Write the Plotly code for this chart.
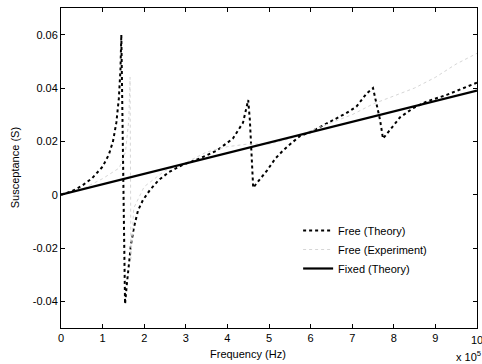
import plotly.graph_objects as go

# Frequency in units of 1e5 Hz
free_theory_f = [0, 0.25, 0.5, 0.75, 1.0, 1.15, 1.25, 1.33, 1.39, 1.43, 1.45,
                 1.50, 1.54, 1.58, 1.62, 1.68, 1.75, 1.85, 1.97, 2.15, 2.35, 2.6,
                 2.9, 3.34, 3.75, 4.13, 4.375, 4.45, 4.5, 4.54, 4.58, 4.62, 4.74,
                 4.95, 5.15, 5.34, 5.55, 5.75, 6.0, 6.3, 6.55, 6.85, 7.1, 7.35,
                 7.5, 7.56, 7.62, 7.67, 7.74, 7.9, 8.15, 8.47, 8.8, 9.27, 9.6, 10.0]
free_theory_b = [0, 0.0012, 0.0033, 0.0062, 0.0105, 0.015, 0.020, 0.027, 0.036, 0.047, 0.060,
                 0.010, -0.041, -0.034, -0.027, -0.019, -0.0125, -0.006, -0.002, 0.002, 0.0055, 0.0085,
                 0.011, 0.0136, 0.0166, 0.021, 0.027, 0.032, 0.0355, 0.028, 0.016, 0.0026, 0.005,
                 0.009, 0.0135, 0.0166, 0.0195, 0.022, 0.0235, 0.026, 0.028, 0.0305, 0.033, 0.038,
                 0.040, 0.036, 0.031, 0.028, 0.021, 0.024, 0.029, 0.0325, 0.035, 0.0374, 0.0395, 0.042]

free_exp_f = [0, 0.5, 1.0, 1.4, 1.55, 1.63, 1.66, 1.68, 1.75, 2.0, 2.5, 3.0, 3.5, 4.0,
              4.5, 5.0, 5.5, 6.0, 6.5, 7.0, 7.5, 8.0, 8.5, 9.0, 9.5, 10.0]
free_exp_b = [0, 0.002, 0.006, 0.010, 0.016, 0.028, 0.044, -0.024, -0.005, 0.003, 0.009, 0.012,
              0.016, 0.018, 0.019, 0.019, 0.021, 0.024, 0.027, 0.030, 0.034, 0.037, 0.040,
              0.044, 0.049, 0.053]

fixed_f = [0, 10.0]
fixed_b = [0, 0.039]

x_ticks = [0, 1, 2, 3, 4, 5, 6, 7, 8, 9, 10]
y_ticks = [-0.04, -0.02, 0, 0.02, 0.04, 0.06]
y_ticktext = ["-0.04", "-0.02", "0", "0.02", "0.04", "0.06"]

FONT = "Liberation Sans, Arial, Helvetica, sans-serif"

fig = go.Figure()
fig.add_trace(go.Scatter(x=free_theory_f, y=free_theory_b, mode="lines", name="Free (Theory)",
                         line=dict(color="black", width=2, dash="dot")))
fig.add_trace(go.Scatter(x=free_exp_f, y=free_exp_b, mode="lines", name="Free (Experiment)",
                         line=dict(color="#d6d6d6", width=1, dash="dot")))
fig.add_trace(go.Scatter(x=fixed_f, y=fixed_b, mode="lines", name="Fixed (Theory)",
                         line=dict(color="black", width=2.2)))

axis_common = dict(showline=True, linecolor="black", linewidth=1, mirror="allticks",
                   ticks="inside", ticklen=4, tickcolor="black", showgrid=False, zeroline=False,
                   tickfont=dict(family=FONT, size=11, color="black"))

fig.update_xaxes(range=[0, 10], tickvals=x_ticks[:-1], ticktext=[str(v) for v in x_ticks[:-1]],
                 **axis_common)
fig.update_yaxes(range=[-0.05, 0.07], tickvals=y_ticks, ticktext=y_ticktext, **axis_common)

fig.update_layout(
    width=482, height=364,
    margin=dict(l=61, r=5, t=8, b=36),
    paper_bgcolor="white", plot_bgcolor="white",
    font=dict(family=FONT, size=11, color="black"),
    showlegend=True,
    legend=dict(x=0.57, y=0.35, xanchor="left", yanchor="top",
                bgcolor="rgba(255,255,255,0)", borderwidth=0,
                font=dict(family=FONT, size=11, color="black"),
                tracegroupgap=0),
    annotations=[
        dict(text=str(x_ticks[-1]), xref="x", yref="paper", x=x_ticks[-1], y=-0.036,
             xanchor="center", yanchor="middle", showarrow=False,
             font=dict(family=FONT, size=11, color="black")),
        dict(text="Frequency (Hz)", xref="paper", yref="paper", x=0.45, y=-0.081,
             xanchor="center", yanchor="middle", showarrow=False,
             font=dict(family=FONT, size=11, color="black")),
        dict(text="x 10<sup>5</sup>", xref="paper", yref="paper", x=0.945, y=-0.088,
             xanchor="left", yanchor="middle", showarrow=False,
             font=dict(family=FONT, size=11, color="black")),
        dict(text="Susceptance (S)", xref="paper", yref="paper", x=-0.11, y=0.5,
             xanchor="center", yanchor="middle", textangle=-90, showarrow=False,
             font=dict(family=FONT, size=11, color="black")),
    ],
)

fig.write_html("out.html")
